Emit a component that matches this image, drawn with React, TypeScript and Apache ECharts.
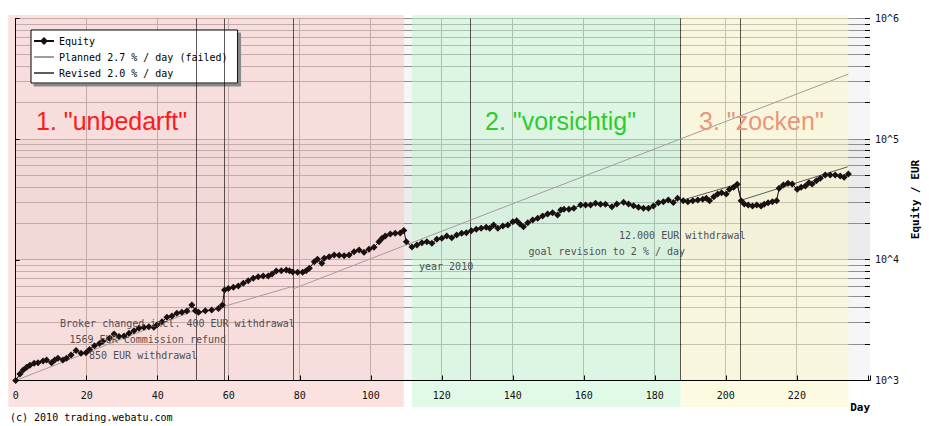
import React, { useEffect, useRef } from "react";
import * as echarts from "echarts";

// ---- data ----
const equityDays = [
  0, 1.2, 2.1, 3.1, 4.0, 5.2, 6.3, 7.7, 8.7, 10.1, 11.0, 11.9, 13.3, 14.3, 15.6, 17.0, 18.4, 19.8, 20.8, 22.2,
  23.6, 24.5, 26.4, 27.7, 29.1, 30.5, 31.9, 33.3, 34.7, 36.1, 37.5, 38.9, 39.8, 41.2, 42.6, 44.0, 45.4, 46.8, 48.2, 49.6,
  50.6, 51.5, 53.4, 55.2, 57.1, 58.2, 58.8, 59.9, 61.3, 62.7, 64.1, 65.5, 66.9, 68.3, 69.7, 71.1, 72.2, 73.4, 74.8, 76.2,
  77.1, 78.0, 79.4, 80.8, 81.8, 82.7, 84.1, 85.0, 86.2, 86.9, 88.3, 89.7, 91.1, 92.5, 93.9, 95.3, 96.7, 98.1, 99.5, 100.9,
  102.3, 103.2, 104.1, 105.5, 106.9, 108.3, 109.3, 110.0, 111.6, 113.0, 114.4, 115.8, 117.2, 118.6, 120.0, 121.4, 122.8, 124.2, 125.6, 126.9,
  128.3, 129.7, 131.1, 132.5, 133.5, 134.6, 135.8, 137.2, 138.6, 140.0, 141.1, 142.0, 143.0, 144.2, 145.6, 147.0, 148.4, 149.8, 151.2, 152.6,
  153.5, 154.4, 155.8, 157.2, 159.1, 160.5, 161.9, 163.3, 164.7, 166.1, 167.9, 169.3, 171.2, 172.6, 174.0, 175.4, 176.8, 178.2, 179.6, 181.0,
  182.4, 183.8, 185.2, 186.4, 188.0, 189.3, 190.7, 192.1, 193.5, 194.5, 195.4, 196.6, 197.7, 198.8, 200.1, 201.0, 202.2, 203.2, 204.3, 205.2,
  206.3, 207.5, 208.7, 209.9, 210.8, 211.9, 213.1, 214.3, 215.0, 216.2, 217.5, 218.7, 220.1, 221.2, 222.4, 223.4, 224.3, 225.5, 226.6, 228.0,
  229.4, 230.8, 232.2, 233.3, 234.5,
];
const equityValues = [
  1000, 1130, 1220, 1290, 1340, 1390, 1400, 1450, 1480, 1400, 1480, 1530, 1480, 1530, 1630, 1770, 1680, 1700, 1810, 1940,
  2030, 2100, 2240, 2430, 2310, 2340, 2460, 2590, 2710, 2760, 2790, 2760, 2880, 3070, 3340, 3420, 3600, 3670, 3770, 4220,
  3790, 3670, 3790, 3840, 3960, 4220, 5620, 5800, 5920, 6070, 6390, 6710, 7030, 7240, 7340, 7340, 7630, 8070, 8120, 8230,
  8120, 7930, 7880, 7880, 8120, 8500, 9640, 10090, 9350, 10290, 10610, 10960, 10900, 10830, 10960, 11670, 12060, 11540, 12220, 12690,
  14130, 15070, 15750, 16360, 16580, 16650, 17490, 14130, 12770, 13270, 13860, 14130, 13700, 14790, 15070, 15750, 15250, 16050, 16580, 16770,
  17420, 17890, 18240, 18590, 18240, 19420, 18240, 19050, 19420, 20690, 21090, 19800, 18800, 20300, 21360, 22070, 23060, 23960, 24560, 23500,
  25860, 26210, 26210, 26710, 28450, 28450, 28450, 29380, 28840, 28840, 27540, 29000, 29950, 29000, 28060, 27220, 26710, 26710, 27910, 29720,
  30290, 31290, 29850, 32320, 30870, 30290, 30870, 31290, 31710, 32320, 30870, 33320, 35090, 35970, 35090, 38370, 39870, 42220, 30870, 29000,
  28450, 27910, 28450, 27910, 28840, 29720, 30290, 30870, 39120, 41660, 43030, 42460, 38370, 39870, 40870, 43530, 42460, 45220, 47340, 50420,
  50420, 50420, 49470, 48260, 51390,
];
const plannedDays = [0, 50.8, 51.2, 77.8, 78.2, 110, 234.5];
const plannedValues = [1000, 3850, 3550, 6000, 5750, 13300, 346000];
const revisedDays = [187.2, 203.2, 204.3, 234.3];
const revisedValues = [30900, 42400, 31200, 59000];
const eventDays = [51.0, 58.9, 78.1, 128.2, 187.2, 204.2];
const xGridDays = [0, 20, 40, 60, 80, 100, 120, 140, 160, 180, 200, 220];
const yGridValues = [
  1000, 2000, 3000, 4000, 5000, 6000, 7000, 8000, 9000,
  10000, 20000, 30000, 40000, 50000, 60000, 70000, 80000, 90000,
  100000, 200000, 300000, 400000, 500000, 600000, 700000, 800000, 900000, 1000000,
];
const decadeLow = [1000, 10000, 100000];
const decadeHigh = [10000, 100000, 1000000];
const phaseNames = ['1. "unbedarft"', '2. "vorsichtig"', '3. "zocken"'];
const phaseStart = [-2.1, 111.6, 187.5];
const phaseEnd = [109.3, 187.3, 234.5];

// ---- styles ----
const MONO = "'DejaVu Sans Mono', monospace";
const phaseFill = ["rgba(250,196,196,0.5)", "rgba(195,245,210,0.5)", "rgba(250,245,195,0.5)"];
const phaseText = ["#ff1a1a", "#2ecc2e", "#e9967a"];
const phaseTextX = [36, 485, 699];
const decadeFill = ["#f6f6f6", "#ececec", "#f6f6f6"];
const GRID = "#909090";
const PLANNED = "#a49c9c";
const REVISED = "#5c5c5c";
const NOFILL = "rgba(0,0,0,0)";

export default function App() {
  const ref = useRef<HTMLDivElement>(null);

  useEffect(() => {
    if (!ref.current) return;
    const chart = echarts.init(ref.current, null, { renderer: "svg" });

    const option: any = {
      animation: false,
      backgroundColor: "#ffffff",
      grid: { left: 15.7, right: 52.3, top: 18.5, bottom: 45.5, show: false },
      legend: {
        orient: "vertical",
        left: 31,
        top: 30,
        padding: [6, 10, 5, 2],
        itemGap: 6,
        itemWidth: 20,
        itemHeight: 10,
        backgroundColor: "#ffffff",
        borderColor: "#000000",
        borderWidth: 1,
        borderRadius: 0,
        shadowColor: "#888888",
        shadowOffsetX: 3,
        shadowOffsetY: 3,
        shadowBlur: 0,
        textStyle: { fontFamily: MONO, fontSize: 10, color: "#000", lineHeight: 10 },
        data: [
          { name: "Equity" },
          { name: "Planned 2.7 % / day (failed)", itemStyle: { color: NOFILL, borderWidth: 0 }, lineStyle: { width: 2, color: PLANNED } },
          { name: "Revised 2.0 % / day", itemStyle: { color: NOFILL, borderWidth: 0 }, lineStyle: { width: 2, color: REVISED } },
        ],
      },
      xAxis: {
        type: "value",
        min: 0,
        max: 240.6,
        interval: 20,
        z: 10,
        name: "Day",
        nameLocation: "end",
        nameGap: 0,
        nameTextStyle: {
          fontFamily: MONO,
          fontWeight: "bold",
          fontSize: 11,
          color: "#000",
          align: "right",
          verticalAlign: "top",
          padding: [21, 0, 0, 0],
        },
        axisLine: { show: true, lineStyle: { color: "#000", width: 1 } },
        axisTick: { show: true, inside: true, length: 5, lineStyle: { color: "#000" } },
        axisLabel: {
          margin: 10,
          fontFamily: MONO,
          fontSize: 10,
          color: "#111",
          formatter: (v: number) => (v % 20 === 0 && v <= 220 ? String(v) : ""),
        },
        splitLine: { show: false },
      },
      yAxis: {
        type: "log",
        logBase: 10,
        min: 1000,
        max: 1000000,
        splitNumber: 3,
        position: "right",
        z: 10,
        name: "Equity / EUR",
        nameLocation: "middle",
        nameRotate: 90,
        nameGap: 38,
        nameTextStyle: { fontFamily: MONO, fontWeight: "bold", fontSize: 11, color: "#000" },
        axisLine: { show: true, lineStyle: { color: "#000", width: 1 } },
        axisTick: { show: true, inside: false, length: 4, lineStyle: { color: "#000" } },
        axisLabel: {
          margin: 5,
          fontFamily: MONO,
          fontSize: 10,
          color: "#111",
          formatter: (v: number) => "10^" + Math.round(Math.log10(v)),
        },
        splitLine: { show: false },
        minorTick: { show: false },
      },
      series: [
        {
          name: "plotBg",
          type: "custom",
          silent: true,
          z: 1,
          clip: false,
          data: decadeLow.map((v, i) => [0, v, decadeHigh[i]]),
          renderItem: (params: any, api: any) => {
            const cs = params.coordSys;
            const yl = api.coord([0, api.value(1)])[1];
            const yh = api.coord([0, api.value(2)])[1];
            return {
              type: "rect",
              shape: { x: cs.x, y: yh, width: cs.width, height: yl - yh },
              style: { fill: decadeFill[params.dataIndex] },
            };
          },
        },
        {
          name: "hGrid",
          type: "custom",
          silent: true,
          z: 2,
          data: yGridValues.map((v) => [0, v]),
          renderItem: (params: any, api: any) => {
            const cs = params.coordSys;
            const y = Math.floor(api.coord([0, api.value(1)])[1]) + 0.5;
            return {
              type: "line",
              shape: { x1: cs.x, y1: y, x2: cs.x + cs.width, y2: y },
              style: { stroke: GRID, lineWidth: 1 },
            };
          },
        },
        {
          name: "vGrid",
          type: "custom",
          silent: true,
          z: 2,
          data: xGridDays.map((d) => [d, 1000]),
          renderItem: (params: any, api: any) => {
            const cs = params.coordSys;
            const x = Math.floor(api.coord([api.value(0), 1000])[0]) + 0.5;
            return {
              type: "line",
              shape: { x1: x, y1: cs.y, x2: x, y2: cs.y + cs.height },
              style: { stroke: GRID, lineWidth: 1 },
            };
          },
        },
        {
          name: "phases",
          type: "custom",
          silent: true,
          z: 3,
          clip: false,
          data: phaseStart.map((s, i) => [s, 1000, phaseEnd[i]]),
          renderItem: (params: any, api: any) => {
            const cs = params.coordSys;
            const x0 = api.coord([api.value(0), 1000])[0];
            const x1 = api.coord([api.value(2), 1000])[0];
            return {
              type: "rect",
              shape: { x: x0, y: cs.y - 3.5, width: x1 - x0, height: cs.height + 30 },
              style: { fill: phaseFill[params.dataIndex] },
            };
          },
        },
        {
          name: "events",
          type: "custom",
          silent: true,
          z: 4,
          data: eventDays.map((d) => [d, 1000]),
          renderItem: (params: any, api: any) => {
            const cs = params.coordSys;
            const x = Math.floor(api.coord([api.value(0), 1000])[0]) + 0.5;
            return {
              type: "line",
              shape: { x1: x, y1: cs.y, x2: x, y2: cs.y + cs.height },
              style: { stroke: "rgba(20,10,10,0.68)", lineWidth: 1 },
            };
          },
        },
        {
          name: "minorTicks",
          type: "custom",
          silent: true,
          z: 11,
          data: yGridValues.map((v) => [0, v]),
          renderItem: (params: any, api: any) => {
            const cs = params.coordSys;
            const y = Math.floor(api.coord([0, api.value(1)])[1]) + 0.5;
            const xr = cs.x + cs.width;
            return {
              type: "line",
              shape: { x1: xr - 5, y1: y, x2: xr, y2: y },
              style: { stroke: "#000", lineWidth: 1 },
            };
          },
        },
        {
          name: "Planned 2.7 % / day (failed)",
          type: "line",
          z: 5,
          silent: true,
          symbol: "none",
          data: plannedDays.map((d, i) => [d, plannedValues[i]]),
          lineStyle: { color: PLANNED, width: 1 },
          itemStyle: { color: NOFILL },
        },
        {
          name: "Revised 2.0 % / day",
          type: "line",
          z: 5,
          silent: true,
          symbol: "none",
          data: revisedDays.map((d, i) => [d, revisedValues[i]]),
          lineStyle: { color: REVISED, width: 1 },
          itemStyle: { color: NOFILL },
        },
        {
          name: "Equity",
          type: "line",
          z: 6,
          silent: true,
          symbol: "diamond",
          symbolSize: 7,
          showSymbol: true,
          data: equityDays.map((d, i) => [d, equityValues[i]]),
          lineStyle: { color: "#140c0c", width: 1 },
          itemStyle: { color: "#1a1010" },
        },
      ],
      graphic: [
        ...phaseNames.map((t, i) => ({
          type: "text",
          x: phaseTextX[i],
          y: 121,
          z: 20,
          silent: true,
          style: {
            text: t,
            fill: phaseText[i],
            font: "25px 'Liberation Sans', Arial, sans-serif",
            verticalAlign: "middle",
          },
        })),
        ...[
          ["Broker changed incl. 400 EUR withdrawal", 60, 323.5],
          ["1569 EUR commission refund", 69.5, 339.5],
          ["850 EUR withdrawal", 89, 355],
          ["year 2010", 419, 266],
          ["12.000 EUR withdrawal", 619, 235],
          ["goal revision to 2 % / day", 528.5, 251],
        ].map(([t, x, y]) => ({
          type: "text",
          x: x as number,
          y: y as number,
          z: 20,
          silent: true,
          style: {
            text: t as string,
            fill: "#505050",
            font: "10px " + MONO,
            verticalAlign: "middle",
          },
        })),
        {
          type: "text",
          x: 10,
          y: 417,
          silent: true,
          style: { text: "(c) 2010 trading.webatu.com", fill: "#000", font: "10px " + MONO, verticalAlign: "middle" },
        },
      ],
    };

    chart.setOption(option);
    return () => chart.dispose();
  }, []);

  return (
    <div
      ref={ref}
      style={{ position: "absolute", left: 0, top: 0, width: 929, height: 426, background: "#fff" }}
    />
  );
}
